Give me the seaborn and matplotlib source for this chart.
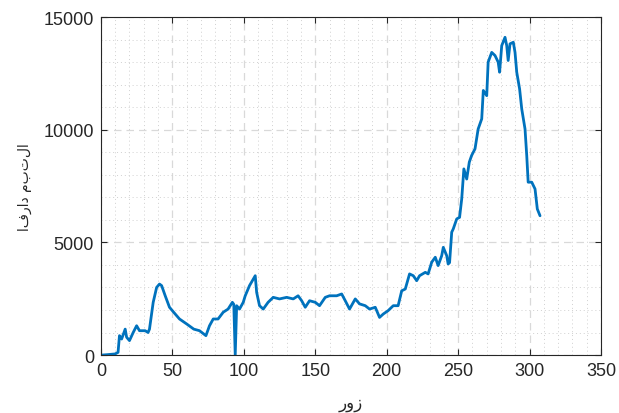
import matplotlib
matplotlib.use("Agg")
import matplotlib.pyplot as plt
import seaborn as sns
import pandas as pd
from matplotlib.ticker import MultipleLocator

# ---- data ----
days = [1, 5, 10, 12, 13, 14.5, 17, 18, 20, 22.6, 25, 27, 31, 33, 34, 36.6, 39, 41,
        42.5, 45, 48, 52, 55, 60, 65, 69, 73.5, 76, 78.6, 82, 85.6, 89, 92, 93, 94,
        95, 97, 99.6, 101, 104, 108, 109, 111, 113.6, 117, 120.6, 125, 130, 134.6,
        138, 140.5, 143, 146, 150, 153, 157, 160, 165, 168.5, 171, 174, 178, 181,
        185, 188, 192, 195, 197.6, 201, 204.6, 208, 210.5, 213, 216, 218.6, 221, 223,
        227, 229, 231.5, 234, 236, 238.5, 239.6, 242, 243, 244, 245.5, 246.6, 249,
        251, 252.5, 254, 256, 257.8, 259.4, 261.8, 264, 266.5, 267.6, 270, 271,
        273.5, 275.8, 278, 279, 280.5, 282.8, 284, 285, 286.3, 288.6, 289.8, 291,
        293, 294.5, 296.8, 298, 299, 301.5, 303.8, 305.4, 307.3]
cases = [0, 20, 50, 120, 860, 710, 1150, 790, 640, 1000, 1300, 1080, 1080, 1000,
         1150, 2340, 3000, 3150, 3080, 2630, 2120, 1820, 1600, 1380, 1150, 1080, 860,
         1300, 1600, 1600, 1900, 2040, 2340, 2250, 0, 2190, 2040, 2340, 2630, 3080,
         3520, 2780, 2190, 2040, 2340, 2560, 2490, 2560, 2490, 2630, 2410, 2120, 2410,
         2340, 2190, 2560, 2630, 2630, 2710, 2410, 2040, 2490, 2270, 2190, 2040, 2120,
         1670, 1820, 1970, 2190, 2190, 2850, 2930, 3600, 3520, 3300, 3520, 3670, 3600,
         4120, 4340, 3970, 4410, 4780, 4410, 4040, 4100, 5450, 5600, 6040, 6110, 6930,
         8260, 7810, 8560, 8850, 9150, 10030, 10480, 11740, 11510, 13000, 13430, 13290,
         13000, 12550, 13730, 14100, 13730, 13070, 13810, 13880, 13430, 12550, 11810,
         10920, 10030, 8850, 7670, 7670, 7370, 6480, 6180]

x_ticks = [0, 50, 100, 150, 200, 250, 300, 350]
y_ticks = [0, 5000, 10000, 15000]
x_label = "روز"
y_label = "افراد مبتلا"

df = pd.DataFrame({"day": days, "cases": cases})

sns.set_theme(style="ticks")
plt.rcParams["font.family"] = ["Liberation Sans", "DejaVu Sans"]

fig = plt.figure(figsize=(6.19, 4.14), dpi=100)
ax = fig.add_axes([0.163, 0.140, 0.808, 0.8165])

sns.lineplot(data=df, x="day", y="cases", ax=ax, color="#0072BD",
             linewidth=2.0, estimator=None, sort=False)

ax.set_xlim(0, 350)
ax.set_ylim(0, 15000)
ax.set_xticks(x_ticks)
ax.set_yticks(y_ticks)
ax.xaxis.set_minor_locator(MultipleLocator(10))
ax.yaxis.set_minor_locator(MultipleLocator(1000))

ax.grid(which="major", color="#d9d9d9", linestyle=(0, (6, 4)), linewidth=0.9)
ax.grid(which="minor", color="#d0d0d0", linestyle=(0, (1, 3)), linewidth=0.7)
ax.set_axisbelow(True)

for s in ax.spines.values():
    s.set_visible(True)
    s.set_color("#262626")
    s.set_linewidth(0.8)

ax.tick_params(which="major", direction="in", length=4, width=0.8,
               top=True, right=True, color="#262626",
               labelsize=13, labelcolor="#262626", pad=5)
ax.tick_params(which="minor", length=0, top=True, right=True)

ax.set_xlabel(x_label, fontsize=12, color="#262626", family="DejaVu Sans", labelpad=10)
ax.set_ylabel(y_label, fontsize=10, color="#262626", family="DejaVu Sans", labelpad=8)

fig.savefig("out.png", dpi=100)
